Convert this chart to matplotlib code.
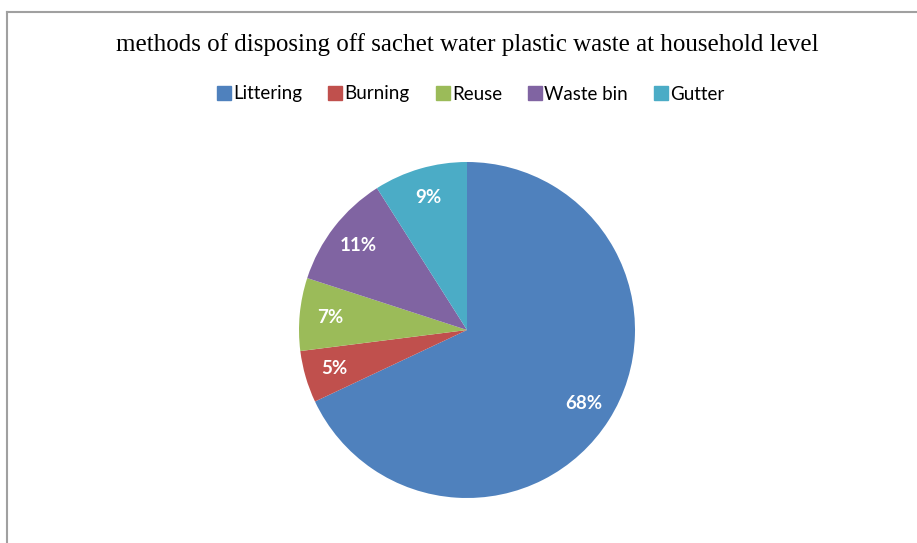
import matplotlib.pyplot as plt
from matplotlib.lines import Line2D

# --- DATA ---
methods = ["Littering", "Burning", "Reuse", "Waste bin", "Gutter"]
shares = [68, 5, 7, 11, 9]
colors = ["#4F81BD", "#C0504D", "#9BBB59", "#8064A2", "#4BACC6"]
title = "methods of disposing off sachet water plastic waste at household level"

W, H = 917, 543
fig = plt.figure(figsize=(W / 100, H / 100), dpi=100)

# pie axes: centre (467, 330) px, radius 168 px
cx, cy, r = 467, 330, 168
ax = fig.add_axes([(cx - r) / W, (H - cy - r) / H, 2 * r / W, 2 * r / H])
wedges, _, autotexts = ax.pie(
    shares, colors=colors, startangle=90, counterclock=False,
    autopct="%.0f%%", pctdistance=0.82, radius=1.0,
    wedgeprops=dict(linewidth=0),
    textprops=dict(color="white", fontsize=13.5, fontweight="bold", family="Lato"))
ax.set_xlim(-1, 1)
ax.set_ylim(-1, 1)
ax.set_aspect("equal")

# title
fig.text(cx / W, 1 - 45 / H, title, ha="center", va="center",
         fontsize=18, family="Liberation Serif")

# legend with square markers
handles = [Line2D([0], [0], marker="s", linestyle="", markersize=9.4,
                  markerfacecolor=c, markeredgecolor=c) for c in colors]
fig.legend(handles, methods, loc="center", bbox_to_anchor=(471 / W, 1 - 94 / H),
           ncol=5, frameon=False, handlelength=0.7, handletextpad=0.15,
           columnspacing=1.4, prop=dict(family="Lato", size=13.5))

# chart frame: left and top edges
fig.add_artist(Line2D([7 / W, 7 / W], [0, 1 - 12 / H], transform=fig.transFigure,
                      color="#a0a0a0", linewidth=1.5))
fig.add_artist(Line2D([7 / W, 1], [1 - 12 / H, 1 - 12 / H], transform=fig.transFigure,
                      color="#a0a0a0", linewidth=1.5))

fig.savefig("out.png", dpi=100)
